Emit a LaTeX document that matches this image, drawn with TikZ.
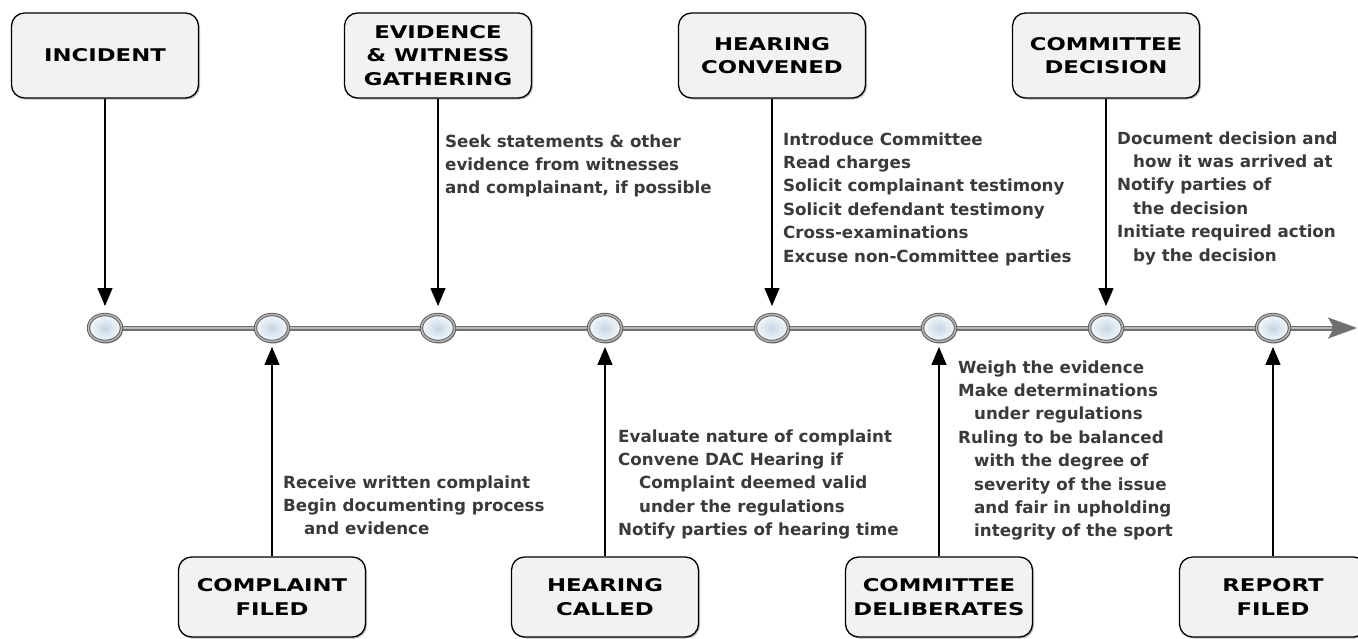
\documentclass[tikz,border=0pt]{standalone}
\usepackage{fontspec}
\usetikzlibrary{arrows.meta,shapes.geometric,shadows}
\newfontfamily\titlefont[FakeStretch=1.3]{DejaVu Sans}
\newfontfamily\bodyfont{DejaVu Sans}
\definecolor{boxfill}{HTML}{F2F2F2}
\definecolor{textgray}{HTML}{3A3A3A}
\definecolor{ringdark}{HTML}{5A5A5A}
\definecolor{ringlight}{HTML}{B4B4B4}
\definecolor{linegray}{HTML}{707070}
\definecolor{linelight}{HTML}{B8B8B8}
\definecolor{ballin}{HTML}{C4D6E4}
\definecolor{ballout}{HTML}{F7FAFC}
\tikzset{
  box/.style={draw=black, line width=1.3pt, rounded corners=13pt, fill=boxfill,
    minimum width=187pt, minimum height=85pt, align=center, inner sep=0pt,
    font=\titlefont\bfseries\fontsize{17.5}{23.3}\selectfont,
    drop shadow={shadow xshift=1.5pt, shadow yshift=-1.5pt, opacity=0.25, fill=black}},
  lowbox/.style={box, minimum height=80pt},
  ball/.style={ellipse, minimum width=33pt, minimum height=27pt, inner sep=0pt,
    draw=ringdark, line width=0.9pt, double=ringlight, double distance=1.6pt,
    inner color=ballin, outer color=ballout,
    drop shadow={shadow xshift=1.2pt, shadow yshift=-2pt, opacity=0.4, fill=black}},
  mainline/.style={line width=5pt, draw=linegray,
    -{Stealth[length=29pt, width=21pt, inset=6pt, line width=0.4pt]}, fill=linegray},
  hiline/.style={line width=1.8pt, draw=linelight},
  varrow/.style={line width=1.3pt, draw=black, -{Triangle[length=18pt, width=15pt]}},
  txt/.style={anchor=base west, align=left, inner sep=0pt, text=textgray,
    font=\bodyfont\bfseries\fontsize{16.7}{23.4}\selectfont}
}
\begin{document}
\begin{tikzpicture}[x=1pt, y=-1pt]
\useasboundingbox (0,0) rectangle (1358,638);
\fill[white] (0,0) rectangle (1358,638);

% timeline coordinates
\coordinate (c1) at (105,328);
\coordinate (c2) at (272,328);
\coordinate (c3) at (438,328);
\coordinate (c4) at (605,328);
\coordinate (c5) at (772,328);
\coordinate (c6) at (939,328);
\coordinate (c7) at (1106,328);
\coordinate (c8) at (1273,328);
\coordinate (tip) at (1357,328);
\coordinate (tipbase) at (1332,328);

\draw[mainline] (c1) -- (tip);
\draw[hiline] (c1) -- (tipbase);

\foreach \i in {1,...,8} \node[ball] (b\i) at (c\i) {};

% boxes
\node[box] (incident) at (105,55.5) {INCIDENT};
\node[box] (evidence) at (438,55.5) {EVIDENCE\\\& WITNESS\\GATHERING};
\node[box] (convened) at (772,55.5) {HEARING\\CONVENED};
\node[box] (decision) at (1106,55.5) {COMMITTEE\\DECISION};
\node[lowbox] (complaint) at (272,597) {COMPLAINT\\FILED};
\node[lowbox] (called) at (605,597) {HEARING\\CALLED};
\node[lowbox] (deliberates) at (939,597) {COMMITTEE\\DELIBERATES};
\node[lowbox] (report) at (1273,597) {REPORT\\FILED};

% arrows
\draw[varrow, shorten >=8pt] (incident.south) -- (b1.north);
\draw[varrow, shorten >=8pt] (evidence.south) -- (b3.north);
\draw[varrow, shorten >=8pt] (convened.south) -- (b5.north);
\draw[varrow, shorten >=8pt] (decision.south) -- (b7.north);
\draw[varrow, shorten >=5pt] (complaint.north) -- (b2.south);
\draw[varrow, shorten >=5pt] (called.north) -- (b4.south);
\draw[varrow, shorten >=5pt] (deliberates.north) -- (b6.south);
\draw[varrow, shorten >=5pt] (report.north) -- (b8.south);

% texts (anchor = baseline of last line)
\node[txt] (tevidence) at (445,193.8) {Seek statements \& other\\evidence from witnesses\\and complainant, if possible};
\node[txt] (tconvened) at (783,262) {Introduce Committee\\Read charges\\Solicit complainant testimony\\Solicit defendant testimony\\Cross-examinations\\Excuse non-Committee parties};
\node[txt] (tdecision) at (1117,261) {Document decision and\\\hspace*{16pt}how it was arrived at\\Notify parties of\\\hspace*{16pt}the decision\\Initiate required action\\\hspace*{16pt}by the decision};
\node[txt] (tcomplaint) at (283,534.8) {Receive written complaint\\Begin documenting process\\\hspace*{21pt}and evidence};
\node[txt] (tcalled) at (618,535.6) {Evaluate nature of complaint\\Convene DAC Hearing if\\\hspace*{21pt}Complaint deemed valid\\\hspace*{21pt}under the regulations\\Notify parties of hearing time};
\node[txt] (tdelib) at (958,536.8) {Weigh the evidence\\Make determinations\\\hspace*{16pt}under regulations\\Ruling to be balanced\\\hspace*{16pt}with the degree of\\\hspace*{16pt}severity of the issue\\\hspace*{16pt}and fair in upholding\\\hspace*{16pt}integrity of the sport};
\end{tikzpicture}
\end{document}
